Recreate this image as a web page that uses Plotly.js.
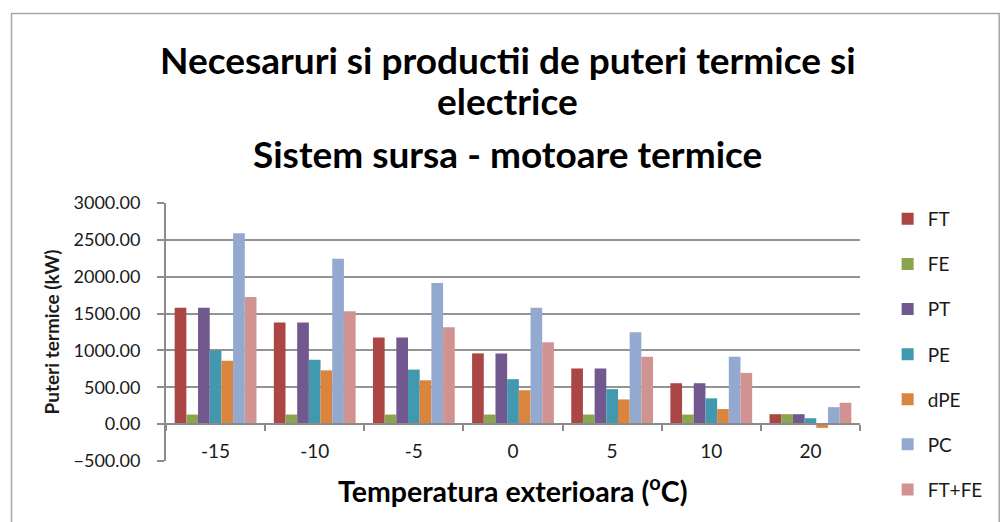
<!DOCTYPE html>
<html>
<head>
<meta charset="utf-8">
<script src="https://cdn.plot.ly/plotly-3.0.1.min.js"></script>
<style>html,body{margin:0;padding:0;background:#fff;}#chart{width:1000px;height:522px;}</style>
</head>
<body>
<div id="chart"></div>
<script>
const categories = ["-15", "-10", "-5", "0", "5", "10", "20"];
const FT   = [1580, 1380, 1175, 960, 755, 555, 135];
const FE   = [130, 130, 130, 130, 130, 130, 135];
const PT   = [1580, 1380, 1175, 960, 755, 555, 135];
const PE   = [1000, 875, 740, 610, 475, 350, 80];
const dPE  = [860, 730, 595, 460, 335, 205, -50];
const PC   = [2590, 2245, 1915, 1580, 1245, 915, 230];
const FTFE = [1725, 1530, 1315, 1110, 915, 695, 290];

const seriesNames = ["FT", "FE", "PT", "PE", "dPE", "PC", "FT+FE"];
const seriesData = [FT, FE, PT, PE, dPE, PC, FTFE];
const seriesColors = ["#AA4643", "#89A54E", "#71588F", "#4198AF", "#DB843D", "#93A9CF", "#D19392"];

const FONT = "Lato, 'Open Sans', sans-serif";

const traces = seriesNames.map((n, i) => ({
  type: "bar",
  name: n,
  x: categories,
  y: seriesData[i],
  legendgroup: n,
  marker: {color: seriesColors[i], line: {width: 0}},
  hoverinfo: "x+y+name"
}));

// paper coordinate helpers (plot area: x 166..869 px, y 203..461 px)
const L = 166, R = 131, T = 203, B = 61;
const PW = 1000 - L - R, PH = 522 - T - B;
const px = v => (v - L) / PW;
const py = v => (522 - B - v) / PH;

const layout = {
  width: 1000, height: 522,
  margin: {l: L, r: R, t: T, b: B, pad: 0},
  paper_bgcolor: "#ffffff",
  plot_bgcolor: "#ffffff",
  font: {family: FONT, color: "#1a1a1a"},
  barmode: "group",
  bargap: 0.175,
  bargroupgap: 0,
  showlegend: true,
  legend: {
    x: px(897), xanchor: "left",
    y: py(200), yanchor: "top",
    font: {size: 19, family: FONT, color: "#1a1a1a"},
    traceorder: "grouped",
    tracegroupgap: 17.4,
    itemwidth: 30,
    maxheight: 1,
    bgcolor: "rgba(0,0,0,0)"
  },
  xaxis: {
    type: "category",
    anchor: "free",
    position: 500 / 3500,
    showline: true,
    linecolor: "#8c8c8c",
    linewidth: 2,
    ticks: "outside",
    tickson: "boundaries",
    ticklen: 6,
    tickwidth: 2,
    tickcolor: "#8c8c8c",
    ticklabelstandoff: 10,
    tickfont: {size: 19, family: FONT, color: "#1a1a1a"},
    showgrid: false,
    fixedrange: true
  },
  yaxis: {
    range: [-500, 3000],
    dtick: 500,
    tick0: 0,
    tickformat: ".2f",
    showline: true,
    linecolor: "#8c8c8c",
    linewidth: 2,
    ticks: "outside",
    ticklen: 7,
    tickwidth: 2,
    tickcolor: "#8c8c8c",
    ticklabelstandoff: 13,
    showgrid: true,
    gridcolor: "#939393",
    gridwidth: 2,
    zeroline: false,
    tickfont: {size: 18, family: FONT, color: "#1a1a1a"},
    title: {text: "Puteri termice (kW)", font: {size: 19, family: FONT, color: "#1a1a1a", weight: "bold"}, standoff: 9},
    fixedrange: true
  },
  annotations: [
    {text: "<b>Necesaruri si productii de puteri termice si</b>", xref: "paper", yref: "paper", x: px(512), y: py(60), xanchor: "center", yanchor: "middle", showarrow: false, font: {size: 37, family: FONT, color: "#000"}},
    {text: "<b>electrice</b>", xref: "paper", yref: "paper", x: px(512), y: py(101), xanchor: "center", yanchor: "middle", showarrow: false, font: {size: 37, family: FONT, color: "#000"}},
    {text: "<b>Sistem sursa - motoare termice</b>", xref: "paper", yref: "paper", x: px(512), y: py(153), xanchor: "center", yanchor: "middle", showarrow: false, font: {size: 37, family: FONT, color: "#000"}},
    {text: "<b>Temperatura exterioara (<sup>o</sup>C)</b>", xref: "paper", yref: "paper", x: px(517), y: py(489), xanchor: "center", yanchor: "middle", showarrow: false, font: {size: 28.5, family: FONT, color: "#000"}}
  ],
  shapes: [
    {type: "rect", xref: "paper", yref: "paper", x0: px(9.5), x1: px(1010), y0: py(540), y1: py(13.5), line: {color: "#a6a6a6", width: 1.5}, fillcolor: "rgba(0,0,0,0)", layer: "below"}
  ]
};

Plotly.newPlot("chart", traces, layout, {displayModeBar: false, staticPlot: true});
</script>
</body>
</html>
